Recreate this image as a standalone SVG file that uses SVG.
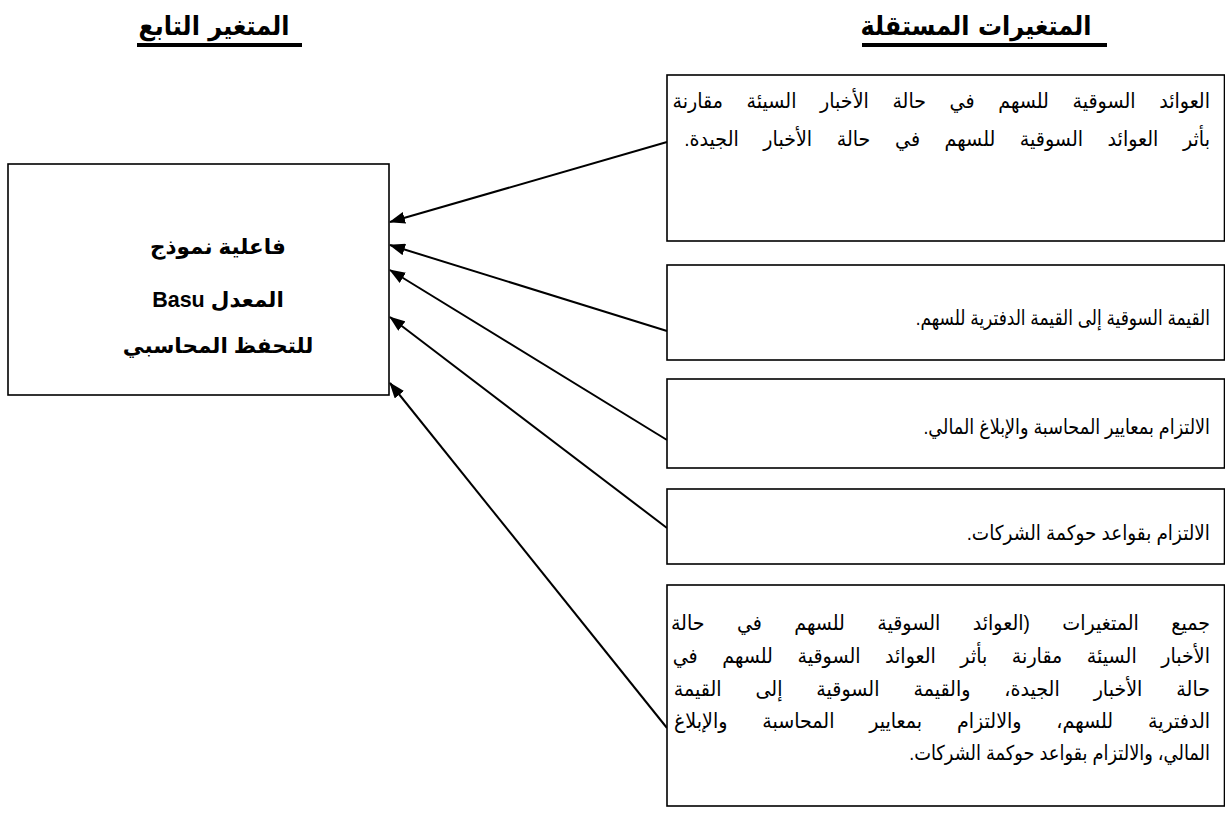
<svg xmlns="http://www.w3.org/2000/svg" width="1225" height="817" viewBox="0 0 1225 817">
<defs>
<style>
.box{fill:#fff;stroke:#000;stroke-width:1.6}
.hdr{font-family:"DejaVu Sans",sans-serif;font-weight:bold;font-size:24px;fill:#000;text-anchor:middle}
.ul{stroke:#000;stroke-width:4}
.t{font-family:"Liberation Sans","DejaVu Sans",sans-serif;font-size:20.5px;fill:#000;direction:rtl;text-anchor:start}
.c{font-family:"Liberation Sans","DejaVu Sans",sans-serif;font-size:21.5px;font-weight:bold;fill:#000;text-anchor:middle}
.con{stroke:#000;stroke-width:2;fill:none;marker-end:url(#ah)}
</style>
<marker id="ah" markerUnits="userSpaceOnUse" markerWidth="16" markerHeight="12" refX="15" refY="6" orient="auto">
<path d="M0,0 L16,6 L0,12 z" fill="#000"/>
</marker>
</defs>
<rect width="1225" height="817" fill="#fff"/>
<g id="headers">
<text class="hdr" transform="translate(214 35) scale(1 1.12)">المتغير التابع</text>
<line class="ul" x1="137" y1="45" x2="302" y2="45"/>
<text class="hdr" transform="translate(976 35) scale(1 1.12)">المتغيرات المستقلة</text>
<line class="ul" x1="862" y1="45" x2="1107" y2="45"/>
</g>
<g id="connectors">
<line class="con" x1="667" y1="142" x2="390" y2="222"/>
<line class="con" x1="667" y1="331" x2="390" y2="245"/>
<line class="con" x1="667" y1="440" x2="390" y2="270"/>
<line class="con" x1="667" y1="528" x2="390" y2="317"/>
<line class="con" x1="667" y1="728" x2="390" y2="383"/>
</g>
<g id="dependent">
<rect class="box" x="8" y="164" width="381" height="231"/>
<text class="c" x="218" y="254">فاعلية نموذج</text>
<text class="c" x="218" y="307" direction="ltr">Basu المعدل</text>
<text class="c" x="218" y="353">للتحفظ المحاسبي</text>
</g>
<g id="v1">
<rect class="box" x="667" y="75" width="557.5" height="166"/>
<text class="t" transform="translate(1210 108) scale(0.932 1)" word-spacing="19.6">العوائد السوقية للسهم في حالة الأخبار السيئة مقارنة</text>
<text class="t" transform="translate(1210 146) scale(0.932 1)" word-spacing="20.7">بأثر العوائد السوقية للسهم في حالة الأخبار الجيدة.</text>
</g>
<g id="v2">
<rect class="box" x="667" y="265" width="557.5" height="95"/>
<text class="t" transform="translate(1210 325) scale(0.83 1)">القيمة السوقية إلى القيمة الدفترية للسهم.</text>
</g>
<g id="v3">
<rect class="box" x="667" y="379" width="557.5" height="89"/>
<text class="t" transform="translate(1210 434) scale(0.86 1)">الالتزام بمعايير المحاسبة والإبلاغ المالي.</text>
</g>
<g id="v4">
<rect class="box" x="667" y="489" width="557.5" height="75"/>
<text class="t" transform="translate(1210 540) scale(0.9 1)">الالتزام بقواعد حوكمة الشركات.</text>
</g>
<g id="v5">
<rect class="box" x="667" y="585" width="557.5" height="221"/>
<text class="t" transform="translate(1210 630) scale(0.932 1)" word-spacing="29">جميع المتغيرات (العوائد السوقية للسهم في حالة</text>
<text class="t" transform="translate(1210 663) scale(0.932 1)" word-spacing="20.6">الأخبار السيئة مقارنة بأثر العوائد السوقية للسهم في</text>
<text class="t" transform="translate(1210 696) scale(0.932 1)" word-spacing="30.7">حالة الأخبار الجيدة، والقيمة السوقية إلى القيمة</text>
<text class="t" transform="translate(1210 728) scale(0.932 1)" word-spacing="31.6">الدفترية للسهم، والالتزام بمعايير المحاسبة والإبلاغ</text>
<text class="t" transform="translate(1210 760) scale(0.87 1)">المالي، والالتزام بقواعد حوكمة الشركات.</text>
</g>
</svg>
